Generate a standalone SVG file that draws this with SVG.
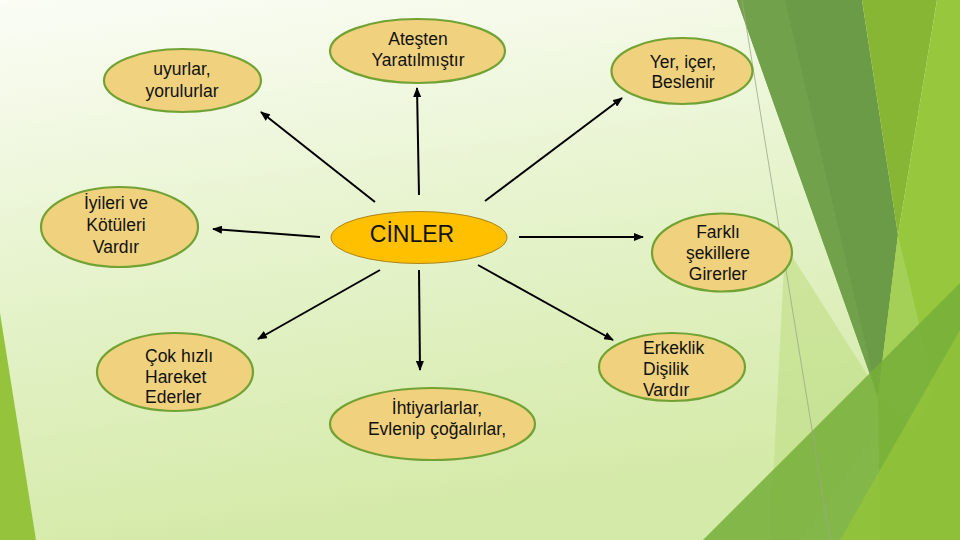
<svg xmlns="http://www.w3.org/2000/svg" width="960" height="540" viewBox="0 0 960 540">
  <defs>
    <linearGradient id="bg" x1="0" y1="0" x2="0.25" y2="1">
      <stop offset="0" stop-color="#FBFDF6"/>
      <stop offset="0.45" stop-color="#E8F4D0"/>
      <stop offset="1" stop-color="#D4EAA8"/>
    </linearGradient>
    <marker id="arr" markerUnits="userSpaceOnUse" markerWidth="10" markerHeight="8" viewBox="0 0 10 8" refX="9" refY="4" orient="auto">
      <path d="M0,0 L10,4 L0,8 z" fill="#000"/>
    </marker>
    <style>
      .node { fill: #F0D27E; stroke: #72A234; stroke-width: 2.2; }
      .center { fill: #FFC000; stroke: #A88420; stroke-width: 1; }
      .t { font-family: "Liberation Sans", Arial, sans-serif; font-size: 17.5px; fill: #111; }
      .tc { text-anchor: middle; }
      .big { font-family: "Liberation Sans", Arial, sans-serif; font-size: 23px; fill: #111; text-anchor: middle; }
      .conn line { stroke: #000; stroke-width: 2; marker-end: url(#arr); }
    </style>
  </defs>

  <!-- background -->
  <rect x="0" y="0" width="960" height="540" fill="url(#bg)"/>
  <polygon points="0,313 36,540 0,540" fill="#95C43C"/>

  <!-- right decorative facets -->
  <polygon points="785,245 880,395 870,440 800,540 770,540" fill="#C3DF8C" opacity="0.7"/>
  <polygon points="737,0 862,0 898,235 878,397" fill="#6B9B47"/>
  <polygon points="737,0 785,0 878,397" fill="#74A34C" opacity="0.8"/>
  <polygon points="862,0 937,0 898,235" fill="#86B634"/>
  <polygon points="937,0 960,0 960,540 880,540 878,397 898,235" fill="#97C73C"/>
  <polygon points="898,235 935,390 915,430 878,397" fill="#A9D463" opacity="0.7"/>
  <polygon points="703,540 960,283 960,540" fill="#76AE38" opacity="0.85"/>
  <polygon points="840,540 960,330 960,540" fill="#93C43A" opacity="0.8"/>
  <line x1="742" y1="0" x2="830" y2="540" stroke="#9AA88A" stroke-width="0.8"/>

  <!-- connectors -->
  <g id="connectors" class="conn">
    <line x1="375" y1="202" x2="261" y2="112"/>
    <line x1="419" y1="195" x2="417" y2="88"/>
    <line x1="485" y1="201" x2="622" y2="98"/>
    <line x1="320" y1="237" x2="213" y2="229"/>
    <line x1="519" y1="237" x2="643" y2="237"/>
    <line x1="380" y1="270" x2="258" y2="339"/>
    <line x1="419" y1="270" x2="420" y2="370"/>
    <line x1="478" y1="265" x2="613" y2="340"/>
  </g>

  <!-- nodes -->
  <g id="node-cinler">
    <ellipse class="center" cx="419" cy="237.5" rx="88" ry="26"/>
    <text class="big" x="412" y="242">CİNLER</text>
  </g>
  <g id="node-uyurlar">
    <ellipse class="node" cx="182.5" cy="80.5" rx="78.5" ry="31.5"/>
    <text class="t tc" x="182" y="75">uyurlar,</text>
    <text class="t tc" x="182" y="97">yorulurlar</text>
  </g>
  <g id="node-iyileri">
    <ellipse class="node" cx="119.5" cy="227" rx="78.5" ry="40"/>
    <text class="t tc" x="116" y="209">İyileri ve</text>
    <text class="t tc" x="116" y="231">Kötüleri</text>
    <text class="t tc" x="116" y="253">Vardır</text>
  </g>
  <g id="node-cok">
    <ellipse class="node" cx="175" cy="372" rx="78" ry="39"/>
    <text class="t" x="145" y="362">Çok hızlı</text>
    <text class="t" x="145" y="383">Hareket</text>
    <text class="t" x="145" y="403">Ederler</text>
  </g>
  <g id="node-atesten">
    <ellipse class="node" cx="417.5" cy="51" rx="87.5" ry="32"/>
    <text class="t tc" x="418" y="45">Ateşten</text>
    <text class="t tc" x="418" y="66">Yaratılmıştır</text>
  </g>
  <g id="node-ihtiyar">
    <ellipse class="node" cx="432.5" cy="424" rx="102.5" ry="36"/>
    <text class="t tc" x="437" y="414">İhtiyarlarlar,</text>
    <text class="t tc" x="437" y="435">Evlenip çoğalırlar,</text>
  </g>
  <g id="node-yer">
    <ellipse class="node" cx="682" cy="71" rx="70.5" ry="33"/>
    <text class="t tc" x="683" y="68">Yer, içer,</text>
    <text class="t tc" x="683" y="88">Beslenir</text>
  </g>
  <g id="node-farkli">
    <ellipse class="node" cx="722" cy="252.5" rx="70" ry="39"/>
    <text class="t tc" x="718" y="238">Farklı</text>
    <text class="t tc" x="718" y="259">şekillere</text>
    <text class="t tc" x="718" y="280">Girerler</text>
  </g>
  <g id="node-erkeklik">
    <ellipse class="node" cx="672" cy="367" rx="73" ry="34"/>
    <text class="t" x="643" y="354">Erkeklik</text>
    <text class="t" x="643" y="375">Dişilik</text>
    <text class="t" x="643" y="396">Vardır</text>
  </g>
</svg>
